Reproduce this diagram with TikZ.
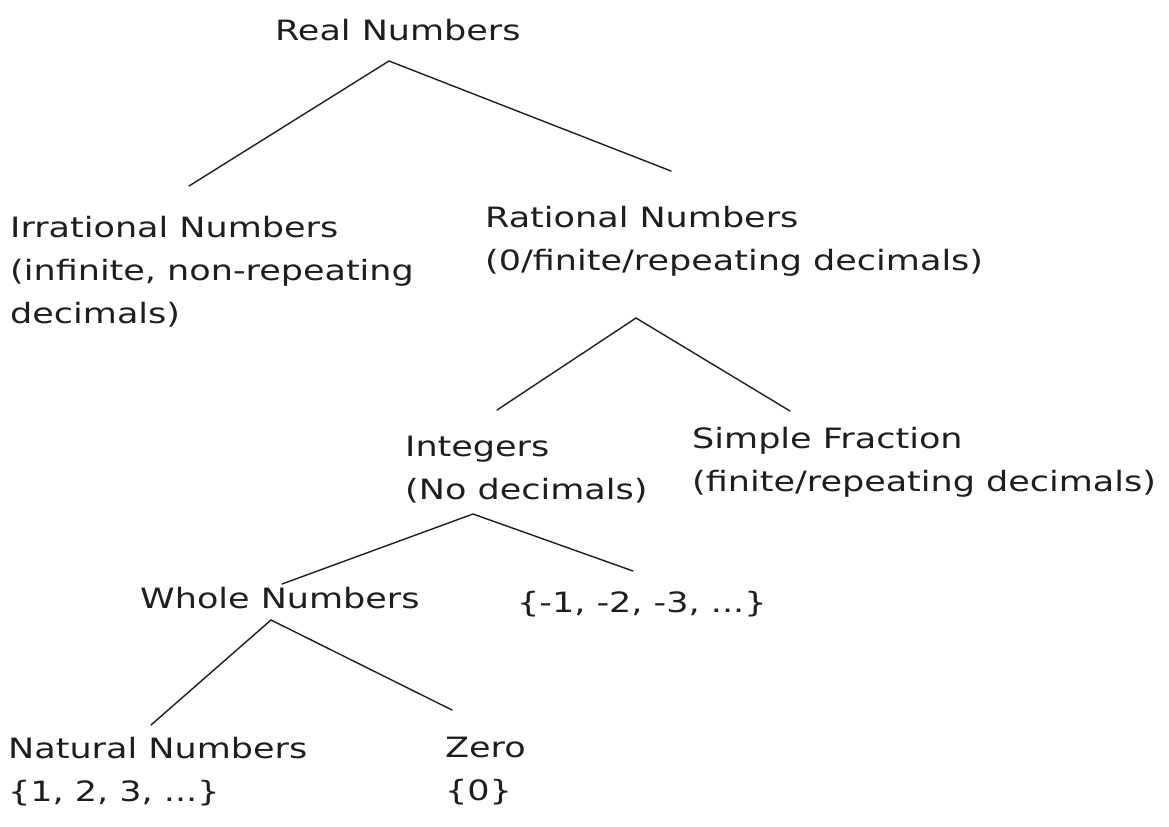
\documentclass[tikz,border=0pt]{standalone}
\usepackage{fontspec}
\setmainfont[FakeStretch=1.25]{DejaVu Sans}
\definecolor{ink}{HTML}{1E1E1E}
\tikzset{
  lbl/.style={anchor=base west, inner sep=0pt, align=left, text=ink,
              font=\fontsize{28bp}{43bp}\selectfont},
  branch/.style={draw=ink, line width=1.4bp, line cap=round}
}
\begin{document}
\begin{tikzpicture}[x=1bp, y=-1bp]
\useasboundingbox (0,0) rectangle (1169,827);
% labels (anchored at the baseline of their last line)
\node[lbl] (real)  at (275,40)  {Real Numbers};
\node[lbl] (irr)   at (10,323)  {Irrational Numbers\\(infinite, non-repeating\\decimals)};
\node[lbl] (rat)   at (485,270) {Rational Numbers\\(0/finite/repeating decimals)};
\node[lbl] (int)   at (405,499) {Integers\\(No decimals)};
\node[lbl] (frac)  at (692,491) {Simple Fraction\\(finite/repeating decimals)};
\node[lbl] (whole) at (140,608) {Whole Numbers};
\node[lbl] (neg)   at (517,612) {\{-1, -2, -3, ...\}};
\node[lbl] (nat)   at (8,801)   {Natural Numbers\\\{1, 2, 3, ...\}};
\node[lbl] (zero)  at (445,800) {Zero\\\{0\}};
% connector ends
\coordinate (real-b)  at (389,61);
\coordinate (irr-t)   at (189,186);
\coordinate (rat-t)   at (671,171);
\coordinate (rat-b)   at (636,318);
\coordinate (int-t)   at (497,410);
\coordinate (frac-t)  at (790,411);
\coordinate (int-b)   at (473,514);
\coordinate (whole-t) at (282,584);
\coordinate (neg-t)   at (633,571);
\coordinate (whole-b) at (271,620);
\coordinate (nat-t)   at (151,725);
\coordinate (zero-t)  at (452,710);
% connectors
\draw[branch] (irr-t) -- (real-b) -- (rat-t);
\draw[branch] (int-t) -- (rat-b) -- (frac-t);
\draw[branch] (whole-t) -- (int-b) -- (neg-t);
\draw[branch] (nat-t) -- (whole-b) -- (zero-t);
\end{tikzpicture}
\end{document}
